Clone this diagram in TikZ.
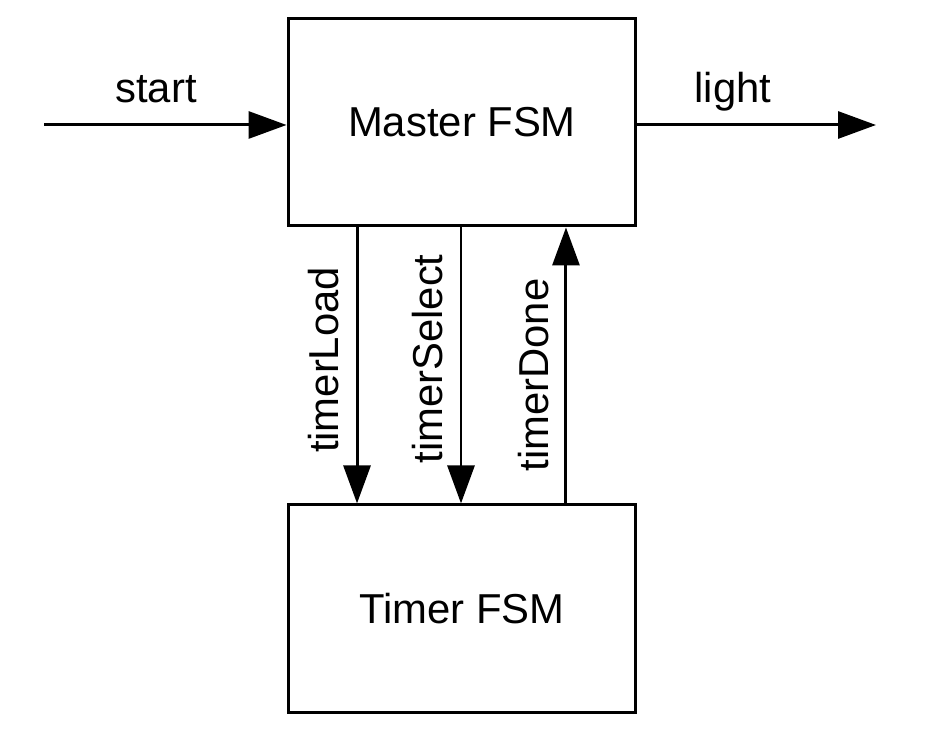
\documentclass[tikz,border=0pt]{standalone}
\usepackage{fontspec}
\setmainfont{Liberation Sans}
\usetikzlibrary{arrows.meta,positioning}

\begin{document}
\begin{tikzpicture}[
  x=0.02cm, y=-0.02cm,
  font=\fontsize{23.8}{28}\selectfont,
  line width=1.7pt,
  box/.style={draw, minimum width=6.96cm, minimum height=4.16cm, inner sep=0pt},
  ar/.style={-{Triangle[length=0.76cm, width=0.54cm]}},
  sig/.style={rotate=90, anchor=base, inner sep=0pt}
]
\useasboundingbox (0,0) rectangle (926,742);
\node[box] (master) at (462,122) {Master FSM};
\node[box, below=5.52cm of master] (timer) {Timer FSM};
\coordinate (in) at (44,125);
\coordinate (out) at (876,125);

% top inputs and outputs
\draw[ar] (in) -- (in -| master.west);
\draw[ar] (out -| master.east) -- (out);
\node[anchor=base, inner sep=0pt] (start) at (156,103) {start};
\node[anchor=base, inner sep=0pt] (light) at (733,103) {light};

% signals between the two machines
\draw[ar] ([xshift=-2.1cm]master.south) -- ([xshift=-2.1cm]timer.north);
\draw[ar] ([xshift=-0.02cm]master.south) -- ([xshift=-0.02cm]timer.north);
\draw[ar] ([xshift=2.08cm]timer.north) -- ([xshift=2.08cm]master.south);
\node[sig] (load) at (338,360) {timerLoad};
\node[sig] (select) at (442,359) {timerSelect};
\node[sig] (done) at (548,375) {timerDone};
\end{tikzpicture}
\end{document}
